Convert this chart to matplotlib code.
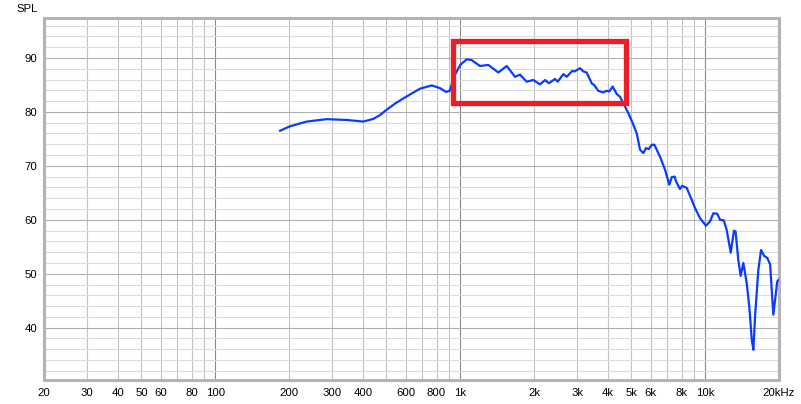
import matplotlib.pyplot as plt
from matplotlib.patches import Rectangle

# frequency response (Hz, dB SPL)
freq = [184, 201, 236, 285, 344, 402, 442, 470, 501, 540, 586, 685, 765, 827,
        875, 905, 952, 1000, 1063, 1113, 1204, 1302, 1430, 1548, 1673, 1754,
        1867, 1987, 2117, 2220, 2300, 2437, 2500, 2634, 2720, 2866, 2930, 3082,
        3180, 3280, 3440, 3530, 3659, 3835, 3950, 4060, 4190, 4352, 4487, 4630,
        4851, 5057, 5250, 5417, 5585, 5730, 5880, 6045, 6200, 6536, 6850, 7135,
        7300, 7500, 7600, 7885, 8050, 8405, 8806, 9080, 9520, 10068, 10460,
        10790, 11200, 11485, 11900, 12235, 12705, 13100, 13300, 13640, 13950,
        14300, 14760, 15130, 15480, 15720, 15970, 16470, 16890, 17400, 17930,
        18400, 18960, 19680, 20000]
spl = [76.5, 77.3, 78.2, 78.65, 78.5, 78.2, 78.7, 79.4, 80.4, 81.5, 82.5, 84.3,
       84.9, 84.4, 83.7, 83.9, 86.9, 88.7, 89.75, 89.6, 88.5, 88.7, 87.3, 88.5,
       86.5, 86.9, 85.6, 85.9, 85.1, 85.9, 85.3, 86.1, 85.6, 87.0, 86.5, 87.6,
       87.5, 88.1, 87.5, 87.3, 85.3, 84.9, 83.9, 83.6, 83.9, 83.8, 84.7, 83.3,
       82.8, 81.6, 79.8, 77.9, 76.05, 73.0, 72.35, 73.3, 73.1, 73.9, 73.9, 71.7,
       69.3, 66.5, 67.9, 68.0, 67.1, 65.7, 66.3, 65.9, 63.7, 62.2, 60.3, 58.9,
       59.7, 61.2, 61.1, 60.0, 59.9, 58.1, 53.9, 58.0, 57.8, 52.6, 49.6, 52.0,
       48.3, 43.9, 37.8, 35.9, 42.1, 50.7, 54.4, 53.3, 52.9, 51.7, 42.4, 48.6,
       48.9]

# highlighted band: f_lo, f_hi, spl_lo, spl_hi
box = [938, 4750, 81.6, 93.2]

xtick_vals = [20, 30, 40, 50, 60, 80, 100, 200, 300, 400, 600, 800,
              1000, 2000, 3000, 4000, 5000, 6000, 8000, 10000, 20000]
xtick_text = ['20', '30', '40', '50', '60', '80', '100', '200', '300', '400',
              '600', '800', '1k', '2k', '3k', '4k', '5k', '6k', '8k', '10k', '20kHz']
decades = [100, 1000, 10000]
yticks = [40, 50, 60, 70, 80, 90]

plt.rcParams['font.family'] = ['Liberation Sans', 'DejaVu Sans']

fig = plt.figure(figsize=(8.01, 4.04), dpi=100)
ax = fig.add_axes([44 / 801, 24 / 404, 735 / 801, 362 / 404])

ax.set_xscale('log')
ax.set_xlim(20, 20000)
ax.set_ylim(30.3, 97.4)

# grid
grid_f = [m * 10 ** e for e in range(1, 5) for m in range(1, 10)]
grid_f = [g for g in grid_f if 20 <= g <= 20000]
for g in grid_f:
    if g in decades:
        ax.axvline(g, color='#8a8a8a', lw=0.8, zorder=1)
    else:
        ax.axvline(g, color='#c2c2c2', lw=0.8, zorder=1)
for v in range(32, 97, 2):
    if v % 10 == 0:
        ax.axhline(v, color='#b0b0b0', lw=0.8, zorder=1)
    else:
        ax.axhline(v, color='#dcdcdc', lw=0.8, zorder=1)

ax.plot(freq, spl, color='#0a3cff', lw=1.6, zorder=3, solid_joinstyle='round')

ax.add_patch(Rectangle((box[0], box[2]), box[1] - box[0], box[3] - box[2],
                       fill=False, edgecolor='#ee1c25', lw=3.8,
                       joinstyle='miter', zorder=4))

ax.set_xticks(xtick_vals)
ax.set_xticklabels(xtick_text)
ax.minorticks_off()
ax.set_yticks(yticks)
ax.tick_params(length=0, labelsize=8.2, colors='black', pad=6)
ax.tick_params(axis='y', pad=5)

for s in ax.spines.values():
    s.set_color('#b4b4b4')
    s.set_linewidth(2.2)

fig.text(16 / 801, 1 - 9 / 404, 'SPL', fontsize=8.2, va='center', ha='left')

fig.savefig('out.png', dpi=100)
